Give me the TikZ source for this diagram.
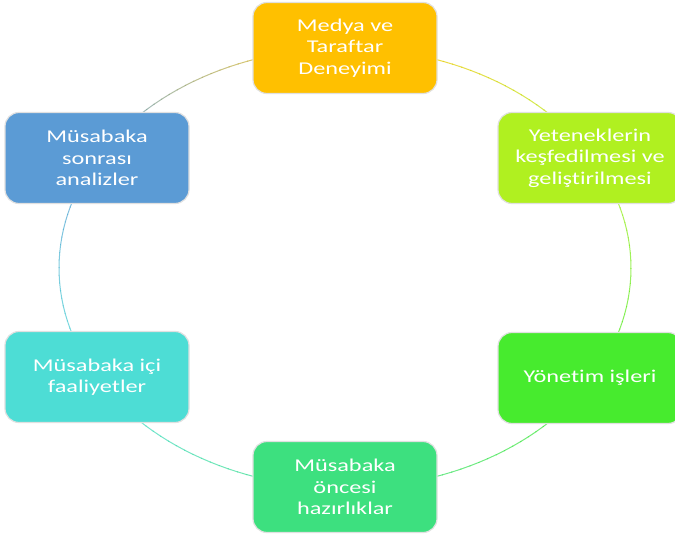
\documentclass[tikz,border=0pt]{standalone}
\usepackage{fontspec}
\newfontfamily\boxfont{Carlito}[FakeStretch=1.35,Ligatures={NoCommon}]
\definecolor{cA}{HTML}{FFC000}
\definecolor{cB}{HTML}{B0F020}
\definecolor{cC}{HTML}{47EB2E}
\definecolor{cD}{HTML}{3DE07F}
\definecolor{cE}{HTML}{4DDDD5}
\definecolor{cF}{HTML}{5B9BD5}
\tikzset{
  cyclebox/.style={draw=white!88!black, line width=1.2pt, rounded corners=14pt,
    minimum width=184pt, minimum height=91pt, align=center, text=white,
    font=\boxfont\fontsize{18}{21.5}\selectfont, inner sep=2pt},
  ring/.style={line width=1pt, opacity=0.75}
}
\begin{document}
\begin{tikzpicture}[x=1pt,y=-1pt]
\useasboundingbox (0,0) rectangle (675,535);
\clip (0,0) rectangle (675,535);
\fill[white] (0,0) rectangle (675,535);
% ring segments with blended colours
\foreach \i/\ca/\cb in {0/cA/cB,1/cB/cC,2/cC/cD,3/cD/cE,4/cE/cF,5/cF/cA}{
  \foreach \s in {0,...,29}{
    \pgfmathsetmacro\aa{90-60*\i-2*\s}
    \pgfmathsetmacro\ab{\aa-2.2}
    \pgfmathtruncatemacro\p{100*\s/29}
    \draw[ring, \cb!\p!\ca] ({345+286*cos(\aa)},{268-220*sin(\aa)}) -- ({345+286*cos(\ab)},{268-220*sin(\ab)});
  }
}
\node[cyclebox, fill=cA] (media) at (345,48) {Medya ve\\Taraftar\\Deneyimi};
\node[cyclebox, fill=cB] (talent) at (590,158) {Yeteneklerin\\keşfedilmesi  ve\\geliştirilmesi};
\node[cyclebox, fill=cC] (mgmt) at (590,378) {Yönetim işleri};
\node[cyclebox, fill=cD] (pre) at (345,487) {Müsabaka\\öncesi\\hazırlıklar};
\node[cyclebox, fill=cE] (during) at (97,377) {Müsabaka içi\\faaliyetler};
\node[cyclebox, fill=cF] (post) at (97,158) {Müsabaka\\sonrası\\analizler};
\end{tikzpicture}
\end{document}
